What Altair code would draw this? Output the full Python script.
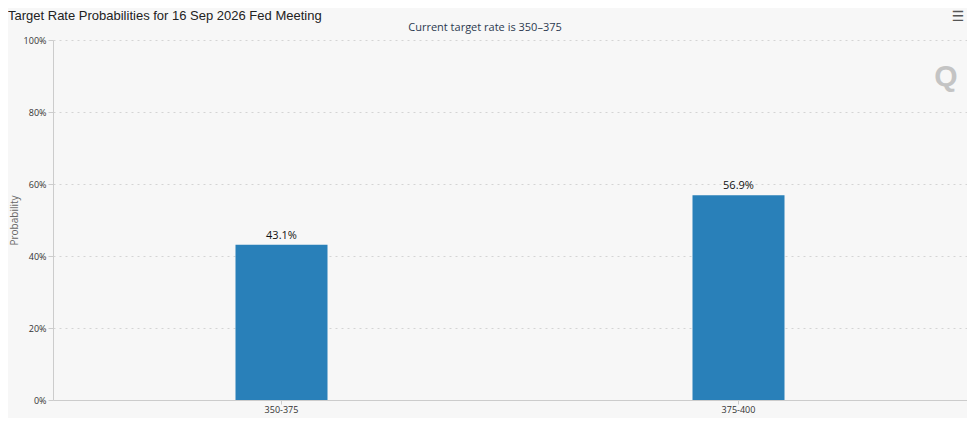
import altair as alt
import pandas as pd

categories = ["350-375", "375-400"]
probabilities = [43.1, 56.9]
labels = ["43.1%", "56.9%"]
y_ticks = [0, 20, 40, 60, 80, 100]
title_text = "Target Rate Probabilities for 16 Sep 2026 Fed Meeting"
subtitle_text = "Current target rate is 350\u2013375"

df = pd.DataFrame({"rate": categories, "prob": probabilities, "label": labels})

FONT = "Open Sans"

x_enc = alt.X(
    "rate:N",
    sort=categories,
    scale=alt.Scale(paddingInner=0, paddingOuter=0),
    axis=alt.Axis(
        title=None,
        labelAngle=0,
        labelFont=FONT,
        labelFontSize=9,
        labelColor="#333333",
        domainColor="#cccccc",
        tickColor="#cccccc",
        tickSize=4,
        labelPadding=1,
    ),
)
y_enc = alt.Y(
    "prob:Q",
    scale=alt.Scale(domain=[0, 100], nice=False),
    axis=alt.Axis(
        title="Probability",
        values=y_ticks,
        labelExpr="datum.value + '%'",
        labelFont=FONT,
        labelFontSize=9,
        labelColor="#333333",
        titleFont=FONT,
        titleFontSize=10,
        titleFontWeight="normal",
        titleColor="#666666",
        titlePadding=4,
        domainColor="#cccccc",
        tickColor="#cccccc",
        tickSize=5,
        grid=True,
        gridColor="#d4d4d4",
        gridDash=[2, 4],
    ),
)

base = alt.Chart(df)

bars = base.mark_bar(size=92, color="#2980b9").encode(x=x_enc, y=y_enc)

text = base.mark_text(
    baseline="bottom", dy=-4, font=FONT, fontSize=11, color="#111111"
).encode(x=alt.X("rate:N", sort=categories), y="prob:Q", text="label:N")

deco = pd.DataFrame({"t": [title_text]})
title = alt.Chart(deco).mark_text(
    font="Liberation Sans", fontSize=13, color="#222222", align="left", baseline="top"
).encode(x=alt.value(-45), y=alt.value(-30), text=alt.value(title_text))

subtitle = alt.Chart(deco).mark_text(
    font=FONT, fontSize=11, color="#2c3a50", align="center", baseline="middle"
).encode(x=alt.value(432), y=alt.value(-12), text=alt.value(subtitle_text))

menu = alt.Chart(deco).mark_text(
    font="DejaVu Sans", fontSize=14, color="#555555", align="center", baseline="middle"
).encode(x=alt.value(905), y=alt.value(-23), text=alt.value("\u2630"))

logo = alt.Chart(deco).mark_text(
    font="Liberation Sans", fontSize=30, fontWeight="bold", color="#c4c4c4",
    align="center", baseline="middle",
).encode(x=alt.value(893), y=alt.value(37), text=alt.value("Q"))

chart = (
    alt.layer(bars, text, title, subtitle, menu, logo)
    .properties(
        width=914,
        height=360,
        autosize="none",
        padding={"left": 45, "top": 32, "right": 0, "bottom": 18},
        background="#f7f7f7",
    )
    .configure_view(stroke=None)
)

chart.save("out.html", embed_options={"renderer": "svg", "actions": False})
